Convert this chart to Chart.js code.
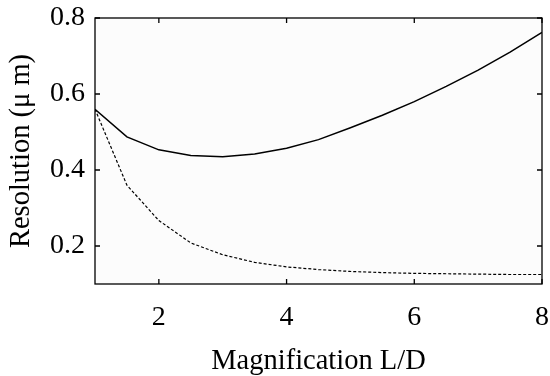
<!DOCTYPE html>
<html>
<head>
<meta charset="utf-8">
<script src="https://cdn.jsdelivr.net/npm/chart.js@4"></script>
<style>
  html, body { margin: 0; padding: 0; background: #ffffff; overflow: hidden; }
  #wrap { position: relative; width: 550px; height: 376px; }
  canvas { display: block; }
</style>
</head>
<body>
<div id="wrap"><canvas id="chart"></canvas></div>
<script>
// === Data ===
const magnification = [1, 1.5, 2, 2.5, 3, 3.5, 4, 4.5, 5, 5.5, 6, 6.5, 7, 7.5, 8];
const resolutionSolid = [0.56, 0.487, 0.453, 0.438, 0.435, 0.442, 0.457, 0.480, 0.511, 0.544, 0.580, 0.620, 0.663, 0.710, 0.762];
const resolutionDashed = [0.56, 0.36, 0.267, 0.208, 0.177, 0.157, 0.145, 0.138, 0.133, 0.130, 0.128, 0.127, 0.126, 0.125, 0.125];
const xTicks = [2, 4, 6, 8];
const yTicks = [0.2, 0.4, 0.6, 0.8];

const FONT = "'Liberation Serif', 'Times New Roman', serif";

// frame + inward ticks on all four sides
const framePlugin = {
    id: 'frame',
    beforeDraw(chart) {
        const { ctx, chartArea: a } = chart;
        ctx.save();
        ctx.fillStyle = '#fcfcfc';
        ctx.fillRect(a.left, a.top, a.right - a.left, a.bottom - a.top);
        ctx.restore();
    },
    afterDraw(chart) {
        const { ctx, chartArea: a, scales } = chart;
        const len = 5;
        ctx.save();
        ctx.strokeStyle = '#000';
        ctx.lineWidth = 1.3;
        ctx.strokeRect(a.left, a.top, a.right - a.left, a.bottom - a.top);
        ctx.beginPath();
        xTicks.forEach(v => {
            const px = scales.x.getPixelForValue(v);
            ctx.moveTo(px, a.bottom); ctx.lineTo(px, a.bottom - len);
            ctx.moveTo(px, a.top); ctx.lineTo(px, a.top + len);
        });
        yTicks.forEach(v => {
            const py = scales.y.getPixelForValue(v);
            ctx.moveTo(a.left, py); ctx.lineTo(a.left + len, py);
            ctx.moveTo(a.right, py); ctx.lineTo(a.right - len, py);
        });
        ctx.stroke();
        ctx.restore();
    }
};

const points = arr => magnification.map((x, i) => ({ x: x, y: arr[i] }));

new Chart(document.getElementById('chart'), {
    type: 'line',
    data: {
        datasets: [
            {
                data: points(resolutionSolid),
                borderColor: '#000',
                borderWidth: 1.5,
                pointRadius: 0,
                tension: 0
            },
            {
                data: points(resolutionDashed),
                borderColor: '#000',
                borderWidth: 1.2,
                borderDash: [3, 2],
                pointRadius: 0,
                tension: 0
            }
        ]
    },
    options: {
        responsive: true,
        maintainAspectRatio: false,
        animation: false,
        layout: { padding: { top: 18, right: 8, left: 0, bottom: 0 } },
        plugins: { legend: { display: false }, tooltip: { enabled: false } },
        scales: {
            x: {
                type: 'linear',
                min: 1,
                max: 8,
                grid: { display: false, drawTicks: false },
                border: { display: false },
                afterBuildTicks: s => { s.ticks = xTicks.map(v => ({ value: v })); },
                afterFit: s => { s.height = 92; s.paddingRight = 0; s.paddingLeft = 0; },
                ticks: {
                    color: '#000',
                    padding: 17,
                    maxRotation: 0,
                    font: { family: FONT, size: 28 }
                },
                title: {
                    display: true,
                    text: 'Magnification L/D',
                    color: '#000',
                    padding: { top: 0, bottom: 0 },
                    font: { family: FONT, size: 28.5, lineHeight: 1.0 }
                }
            },
            y: {
                type: 'linear',
                min: 0.1,
                max: 0.8,
                grid: { display: false, drawTicks: false },
                border: { display: false },
                afterBuildTicks: s => { s.ticks = yTicks.map(v => ({ value: v })); },
                afterFit: s => { s.width = 95; s.paddingTop = 0; s.paddingBottom = 0; },
                ticks: {
                    color: '#000',
                    padding: 10,
                    font: { family: FONT, size: 28 },
                    callback: v => v.toFixed(1)
                },
                title: {
                    display: true,
                    text: 'Resolution (\u03bc m)',
                    color: '#000',
                    padding: { top: 7, bottom: 0 },
                    font: { family: FONT, size: 28.5, lineHeight: 1.0 }
                }
            }
        }
    },
    plugins: [framePlugin]
});
</script>
</body>
</html>
